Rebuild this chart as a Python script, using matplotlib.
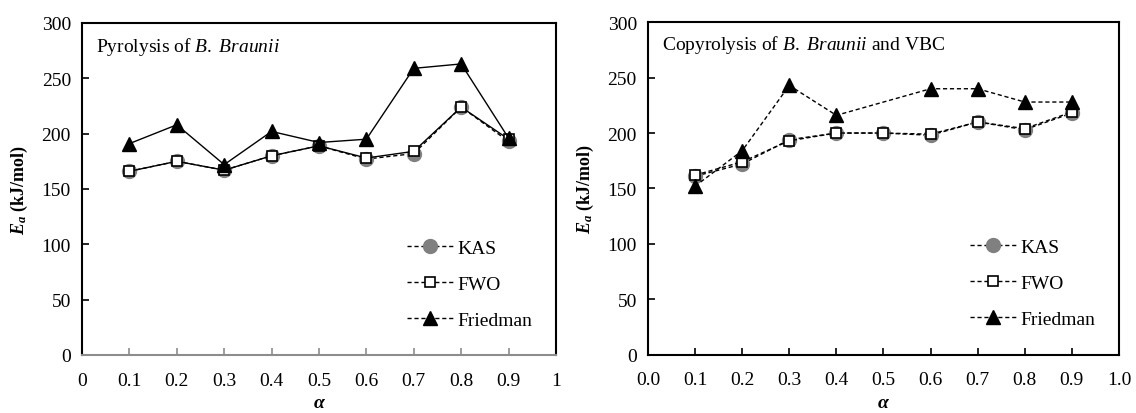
import matplotlib
matplotlib.use("Agg")
import matplotlib.pyplot as plt
from matplotlib.lines import Line2D

plt.rcParams['font.family'] = ['Liberation Serif', 'DejaVu Serif']
plt.rcParams['mathtext.fontset'] = 'custom'
plt.rcParams['mathtext.rm'] = 'Liberation Serif'
plt.rcParams['mathtext.it'] = 'Liberation Serif:italic'
plt.rcParams['mathtext.bf'] = 'Liberation Serif:bold'
plt.rcParams['mathtext.bfit'] = 'Liberation Serif:italic:bold'

alpha = [0.1, 0.2, 0.3, 0.4, 0.5, 0.6, 0.7, 0.8, 0.9]

# Pyrolysis of B. Braunii
kas_pyro = [166, 175, 167, 180, 189, 177, 182, 224, 193]
fwo_pyro = [166, 175, 167, 180, 189, 178, 184, 224, 195]
fried_pyro = [191, 208, 172, 202, 192, 195, 259, 263, 196]

# Copyrolysis of B. Braunii and VBC
kas_copy = [161, 172, 194, 200, 200, 198, 210, 203, 218]
fwo_copy = [162, 174, 193, 200, 200, 199, 210, 204, 219]
alpha_fried_copy = [0.1, 0.2, 0.3, 0.4, 0.6, 0.7, 0.8, 0.9]
fried_copy = [152, 184, 243, 216, 240, 240, 228, 228]

labels = ['KAS', 'FWO', 'Friedman']
yticks = [0, 50, 100, 150, 200, 250, 300]
xticks = [0, 0.1, 0.2, 0.3, 0.4, 0.5, 0.6, 0.7, 0.8, 0.9, 1.0]
xticklabels_left = ['0', '0.1', '0.2', '0.3', '0.4', '0.5', '0.6', '0.7', '0.8', '0.9', '1']
xticklabels_right = ['0.0', '0.1', '0.2', '0.3', '0.4', '0.5', '0.6', '0.7', '0.8', '0.9', '1.0']

FS = 14
fig = plt.figure(figsize=(11.36, 4.14), dpi=100)
axL = fig.add_axes([0.0722, 0.1401, 0.4172, 0.802])
axR = fig.add_axes([0.5704, 0.1413, 0.4146, 0.8024])

kas_style = dict(marker='o', markersize=10, markerfacecolor='#808080', markeredgecolor='#808080', color='black', lw=1.0)
fwo_style = dict(marker='s', markersize=7.5, markerfacecolor='white', markeredgecolor='black', markeredgewidth=1.2, color='black', lw=1.0)
fr_style = dict(marker='^', markersize=9.5, markerfacecolor='black', markeredgecolor='black', color='black', lw=1.0)

# Left panel
axL.plot(alpha, kas_pyro, ls=(0, (3, 2)), **kas_style)
axL.plot(alpha, fwo_pyro, ls='-', **fwo_style)
axL.plot(alpha, fried_pyro, ls='-', **fr_style)

# Right panel
axR.plot(alpha, kas_copy, ls=(0, (3, 2)), **kas_style)
axR.plot(alpha, fwo_copy, ls=(0, (3, 2)), **fwo_style)
axR.plot(alpha_fried_copy, fried_copy, ls=(0, (3, 2)), **fr_style)

handles = [Line2D([], [], ls=(0, (3, 2)), **kas_style),
           Line2D([], [], ls=(0, (3, 2)), **fwo_style),
           Line2D([], [], ls=(0, (3, 2)), **fr_style)]

for ax, xtl in ((axL, xticklabels_left), (axR, xticklabels_right)):
    ax.set_xlim(0, 1)
    ax.set_ylim(0, 300)
    ax.set_xticks(xticks)
    ax.set_xticklabels(xtl)
    ax.set_yticks(yticks)
    ax.tick_params(direction='in', length=5, width=1.2, labelsize=FS, pad=8, colors='black')
    ax.tick_params(axis='x', pad=12)
    for s in ax.spines.values():
        s.set_linewidth(1.5)
        s.set_color('black')
    ax.set_ylabel(r'$\mathbfit{E_a}$ (kJ/mol)', fontsize=FS - 1, fontweight='bold', labelpad=8)
    ax.set_xlabel('α', fontsize=FS, fontweight='bold', fontstyle='italic', labelpad=4)
    leg = ax.legend(handles, labels, loc='lower right', bbox_to_anchor=(0.97, 0.05),
                    frameon=False, fontsize=FS, handlelength=2.4, labelspacing=0.95,
                    handletextpad=0.2, borderpad=0)

axL.spines['bottom'].set_color('#8c8c8c')
axL.tick_params(axis='x', color='#8c8c8c')

axL.text(0.03, 0.93, 'Pyrolysis of $\\mathit{B.\\ Braunii}$', transform=axL.transAxes,
         fontsize=FS, va='center', ha='left')
axR.text(0.03, 0.935, 'Copyrolysis of $\\mathit{B.\\ Braunii}$ and VBC', transform=axR.transAxes,
         fontsize=FS, va='center', ha='left')

fig.savefig('out.png', dpi=100)
